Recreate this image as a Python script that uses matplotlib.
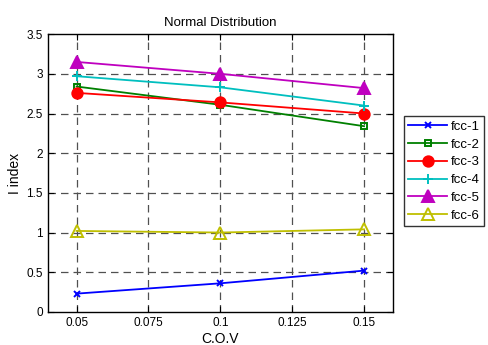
import matplotlib
matplotlib.use('Agg')
import matplotlib.pyplot as plt

plt.rcParams['font.family'] = ['Liberation Sans', 'DejaVu Sans']

cov = [0.05, 0.1, 0.15]
fcc1 = [0.23, 0.36, 0.52]
fcc2 = [2.84, 2.61, 2.34]
fcc3 = [2.76, 2.64, 2.50]
fcc4 = [2.97, 2.83, 2.60]
fcc5 = [3.15, 3.00, 2.82]
fcc6 = [1.02, 1.00, 1.04]
names = ['fcc-1', 'fcc-2', 'fcc-3', 'fcc-4', 'fcc-5', 'fcc-6']
xticks = [0.05, 0.075, 0.1, 0.125, 0.15]
yticks = [0, 0.5, 1, 1.5, 2, 2.5, 3, 3.5]

fig = plt.figure(figsize=(4.88, 3.45), dpi=100)
ax = fig.add_axes([0.098, 0.096, 0.707, 0.805])

# grid first so lines sit on top
for xv in xticks:
    ax.axvline(xv, color='#505050', ls=(0, (6, 4)), lw=0.9, zorder=1)
for yv in yticks[1:-1]:
    ax.axhline(yv, color='#505050', ls=(0, (6, 4)), lw=0.9, zorder=1)

styles = [
    ('#0000ff', 'x', 4.5, 'full'),
    ('#008000', 's', 5, 'none'),
    ('#ff0000', 'o', 7.5, 'full'),
    ('#00bfbf', '+', 7, 'full'),
    ('#bf00bf', '^', 8, 'full'),
    ('#bfbf00', '^', 8, 'none'),
]
series = [fcc1, fcc2, fcc3, fcc4, fcc5, fcc6]
for vals, name, (c, m, ms, fill) in zip(series, names, styles):
    ax.plot(cov, vals, color=c, marker=m, ms=ms, lw=1.3, mew=1.4,
            fillstyle=fill, label=name, zorder=3)

ax.set_xlim(0.04, 0.16)
ax.set_ylim(0, 3.5)
ax.set_xticks(xticks)
ax.set_xticklabels(['0.05', '0.075', '0.1', '0.125', '0.15'])
ax.set_yticks(yticks)
ax.set_yticklabels(['0', '0.5', '1', '1.5', '2', '2.5', '3', '3.5'])
ax.tick_params(direction='in', labelsize=8.5, length=4, top=True, right=True)
for s in ax.spines.values():
    s.set_linewidth(1.0)

ax.set_title('Normal Distribution', fontsize=9.5, pad=6)
ax.set_xlabel('C.O.V', fontsize=10, labelpad=2)
ax.set_ylabel('I index', fontsize=10, labelpad=3)

leg = ax.legend(loc='upper left', bbox_to_anchor=(1.032, 0.705), fontsize=9.5,
                frameon=True, fancybox=False, edgecolor='black',
                borderpad=0.35, labelspacing=0.42, handlelength=2.9,
                handletextpad=0.3, borderaxespad=0)
leg.get_frame().set_linewidth(1.0)

fig.savefig('out.png', dpi=100)
